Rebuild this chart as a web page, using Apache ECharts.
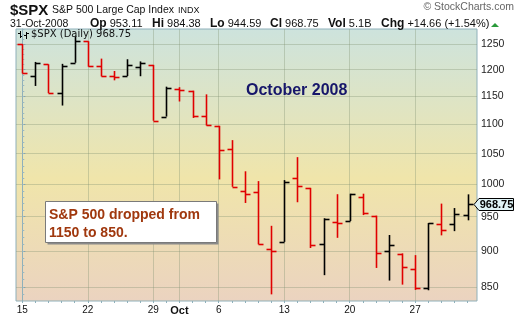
<!DOCTYPE html>
<html><head><meta charset="utf-8">
<script src="https://cdn.jsdelivr.net/npm/echarts@6/dist/echarts.min.js"></script>
<style>html,body{margin:0;padding:0;background:#fff}#c{width:520px;height:318px}</style>
</head><body><div id="c"></div>
<script>
const dates = ['2008-09-15','2008-09-16','2008-09-17','2008-09-18','2008-09-19',
  '2008-09-22','2008-09-23','2008-09-24','2008-09-25','2008-09-26',
  '2008-09-29','2008-09-30','2008-10-01','2008-10-02','2008-10-03',
  '2008-10-06','2008-10-07','2008-10-08','2008-10-09','2008-10-10',
  '2008-10-13','2008-10-14','2008-10-15','2008-10-16','2008-10-17',
  '2008-10-20','2008-10-21','2008-10-22','2008-10-23','2008-10-24',
  '2008-10-27','2008-10-28','2008-10-29','2008-10-30','2008-10-31'];
const opens  = [1249.8,1188.3,1210.3,1157.1,1213.1, 1255.4,1207.6,1188.8,1187.9,1204.5,
  1209.1,1113.8,1164.2,1160.6,1115.2, 1097.6,1057.6,988.9,988.4,902.3,
  912.8,1010.0,994.6,909.5,942.3, 943.5,980.4,951.7,899.1,895.2,
  874.3,848.9,939.5,939.4,953.11];
const highs  = [1249.8,1214.8,1210.3,1211.1,1265.1, 1255.4,1221.2,1197.4,1220.0,1215.8,
  1209.1,1168.0,1167.0,1160.6,1153.8, 1097.6,1072.9,1021.1,1005.3,936.4,
  1006.9,1044.3,994.6,947.7,984.6, 985.4,985.4,951.7,922.8,896.3,
  893.8,940.5,970.0,963.2,984.38];
const lows   = [1192.7,1169.3,1155.9,1133.5,1213.1, 1205.6,1187.1,1179.8,1187.9,1187.5,
  1106.4,1113.8,1140.8,1111.4,1098.1, 1008.0,996.2,971.0,909.2,839.8,
  912.8,972.1,904.0,865.8,918.7, 943.5,952.5,875.8,858.4,852.9,
  845.8,845.3,922.3,928.5,944.59];
const closes = [1192.7,1213.6,1156.4,1206.5,1255.1, 1207.1,1188.2,1185.9,1209.2,1213.3,
  1106.4,1166.4,1161.1,1114.3,1099.2, 1056.9,996.2,984.9,909.9,899.2,
  1003.4,998.0,907.8,946.4,940.6, 985.4,955.1,896.8,908.1,876.8,
  848.9,940.5,930.1,954.1,968.75];
const prevClose = 1251.7;
const xTickIdx  = [0,5,10,12,15,20,25,30];
const xTickText = ['15','22','29','Oct','6','13','20','27'];
const yTicks = [850,900,950,1000,1050,1100,1150,1200,1250];
const yMinorTicks = [840,850,860,870,880,890,900,910,920,930,940,950,960,970,980,990,1000,1010,1020,1030,1040,1050,1060,1070,1080,1090,1100,1110,1120,1130,1140,1150,1160,1170,1180,1190,1200,1210,1220,1230,1240,1250,1260,1270,1280];
const dayIdx = dates.map((d,i)=>i);

const seriesData = dates.map((d,i)=>[i, opens[i], highs[i], lows[i], closes[i],
  closes[i] >= (i ? closes[i-1] : prevClose) ? 1 : 0]);

function renderItem(params, api) {
  const i = api.value(0);
  const pO = api.coord([i, api.value(1)]);
  const pH = api.coord([i, api.value(2)]);
  const pL = api.coord([i, api.value(3)]);
  const pC = api.coord([i, api.value(4)]);
  const x = Math.round(pH[0]) + 0.5;
  const color = api.value(5) ? '#000000' : '#e00000';
  const st = {stroke: color, lineWidth: 1.6};
  const yo = Math.round(pO[1]) + 0.5, yc = Math.round(pC[1]) + 0.5;
  return {type: 'group', children: [
    {type: 'line', shape: {x1: x, y1: pH[1], x2: x, y2: pL[1]}, style: st},
    {type: 'line', shape: {x1: x - 5, y1: yo, x2: x, y2: yo}, style: st},
    {type: 'line', shape: {x1: x, y1: yc, x2: x + 5, y2: yc}, style: st}
  ]};
}

const chart = echarts.init(document.getElementById('c'), null, {renderer: 'canvas'});
const FONT = 'Liberation Sans, Arial, sans-serif';
const gridLine = {color: 'rgba(130,145,115,0.35)', width: 1};
const option = {
  animation: false,
  textStyle: {fontFamily: FONT},
  grid: {left: 16, right: 43, top: 29, bottom: 17, show: true,
    borderColor: '#8fb0ba', borderWidth: 1,
    backgroundColor: {type: 'linear', x: 0, y: 0, x2: 0, y2: 1, colorStops: [
      {offset: 0, color: '#cde3dd'}, {offset: 0.55, color: '#f0e5aa'}, {offset: 1, color: '#ebd3c0'}]}},
  xAxis: [{
    type: 'value', min: -0.48, max: 34.72,
    axisLine: {show: false},
    axisTick: {show: false, customValues: xTickIdx},
    splitLine: {show: true, lineStyle: gridLine},
    axisLabel: {customValues: xTickIdx, margin: 4, fontSize: 10, color: '#111', fontFamily: FONT,
      formatter: v => { const k = xTickIdx.indexOf(Math.round(v)); const t = k >= 0 ? xTickText[k] : '';
        return t === 'Oct' ? '{b|Oct}' : t; },
      rich: {b: {fontWeight: 'bold', fontSize: 11, fontFamily: FONT, color: '#111'}}}
  }, {
    type: 'value', min: -0.48, max: 34.72, position: 'bottom',
    axisLine: {show: false}, splitLine: {show: false}, axisLabel: {show: false},
    axisTick: {show: true, customValues: dayIdx, length: 2, lineStyle: {color: '#8fb0ba'}}
  }],
  yAxis: [{
    type: 'log', min: 831, max: 1280, position: 'right',
    axisLine: {show: true, lineStyle: {color: '#8fb0ba'}},
    axisTick: {show: true, customValues: yTicks, length: 3, lineStyle: {color: '#7f9fa8'}},
    splitLine: {show: true, lineStyle: gridLine},
    axisLabel: {customValues: yTicks, margin: 4, fontSize: 10.5, color: '#222', fontFamily: FONT,
      formatter: v => String(Math.round(v))}
  }, {
    type: 'log', min: 831, max: 1280, position: 'right',
    axisLine: {show: false}, splitLine: {show: false}, axisLabel: {show: false},
    axisTick: {show: true, customValues: yMinorTicks, length: 2, lineStyle: {color: '#9ab8c0'}}
  }],
  series: [{
    type: 'custom', renderItem: renderItem, data: seriesData,
    xAxisIndex: 0, yAxisIndex: 0, encode: {x: 0, y: [1, 2, 3, 4]}, clip: true
  }]
};
chart.setOption(option);

const lastClose = closes[closes.length - 1];
const tag = chart.convertToPixel({xAxisIndex: 0, yAxisIndex: 0}, [34.72, lastClose]);
const ax = tag[0], ay = Math.round(tag[1]);
const rich = {b: {font: 'bold 12px ' + FONT, fill: '#111'}};
const lbl = (x, label, val) => ({type: 'text', left: x, top: 18,
  style: {text: '{b|' + label + '} ' + val, font: '11px ' + FONT, fill: '#111', rich: rich}});
chart.setOption({graphic: [
  {type: 'text', left: 10, top: 3, style: {text: '$SPX', font: 'bold 15px ' + FONT, fill: '#111'}},
  {type: 'text', left: 52, top: 5, style: {text: 'S&P 500 Large Cap Index', font: '10.5px ' + FONT, fill: '#111'}},
  {type: 'text', left: 178, top: 6, style: {text: 'INDX', font: '9px ' + FONT, fill: '#111'}},
  {type: 'text', right: 6, top: 2, style: {text: '© StockCharts.com', font: '10.5px ' + FONT, fill: '#666'}},
  {type: 'text', left: 10, top: 19, style: {text: '31-Oct-2008', font: '10.5px ' + FONT, fill: '#111'}},
  lbl(90, 'Op', '953.11'), lbl(152, 'Hi', '984.38'), lbl(210, 'Lo', '944.59'),
  lbl(270, 'Cl', '968.75'), lbl(328, 'Vol', '5.1B'), lbl(381, 'Chg', '+14.66 (+1.54%)'),
  {type: 'polygon', shape: {points: [[491, 27], [495, 23], [499, 27]]}, style: {fill: '#2a9a3a'}},
  {type: 'group', children: [
    {type: 'line', shape: {x1: 20.5, y1: 31, x2: 20.5, y2: 38}, style: {stroke: '#000', lineWidth: 1}},
    {type: 'line', shape: {x1: 18, y1: 33.5, x2: 20.5, y2: 33.5}, style: {stroke: '#000', lineWidth: 1}},
    {type: 'line', shape: {x1: 20.5, y1: 36.5, x2: 23, y2: 36.5}, style: {stroke: '#000', lineWidth: 1}},
    {type: 'line', shape: {x1: 26.5, y1: 32, x2: 26.5, y2: 39}, style: {stroke: '#000', lineWidth: 1}},
    {type: 'line', shape: {x1: 24, y1: 35.5, x2: 26.5, y2: 35.5}, style: {stroke: '#000', lineWidth: 1}},
    {type: 'line', shape: {x1: 26.5, y1: 33.5, x2: 29, y2: 33.5}, style: {stroke: '#000', lineWidth: 1}}
  ]},
  {type: 'text', left: 31, top: 29, style: {text: '$SPX (Daily) 968.75', font: '10px DejaVu Sans', fill: '#111'}},
  {type: 'text', left: 246, top: 83, style: {text: 'October 2008', font: 'bold 16px ' + FONT, fill: '#16166a'}},
  {type: 'rect', shape: {x: 47.5, y: 203.5, width: 171, height: 41}, style: {fill: '#8a8a8a'}},
  {type: 'rect', shape: {x: 45.5, y: 201.5, width: 171, height: 41}, style: {fill: '#ffffff', stroke: '#7a7a7a', lineWidth: 1}},
  {type: 'text', left: 49, top: 206, style: {text: 'S&P 500 dropped from\n1150 to 850.', font: 'bold 14px ' + FONT,
    lineHeight: 18, fill: '#a0380e'}},
  {type: 'polygon', shape: {points: [[ax - 3, ay + 0.5], [ax + 2, ay - 5.5], [ax + 36.5, ay - 5.5], [ax + 36.5, ay + 6.5], [ax + 2, ay + 6.5]]},
    style: {fill: '#dff3f6', stroke: '#000', lineWidth: 1}},
  {type: 'text', x: ax + 19.5, y: ay + 1, style: {text: lastClose.toFixed(2), font: 'bold 11px ' + FONT, fill: '#000',
    align: 'center', verticalAlign: 'middle'}}
]});
</script></body></html>
